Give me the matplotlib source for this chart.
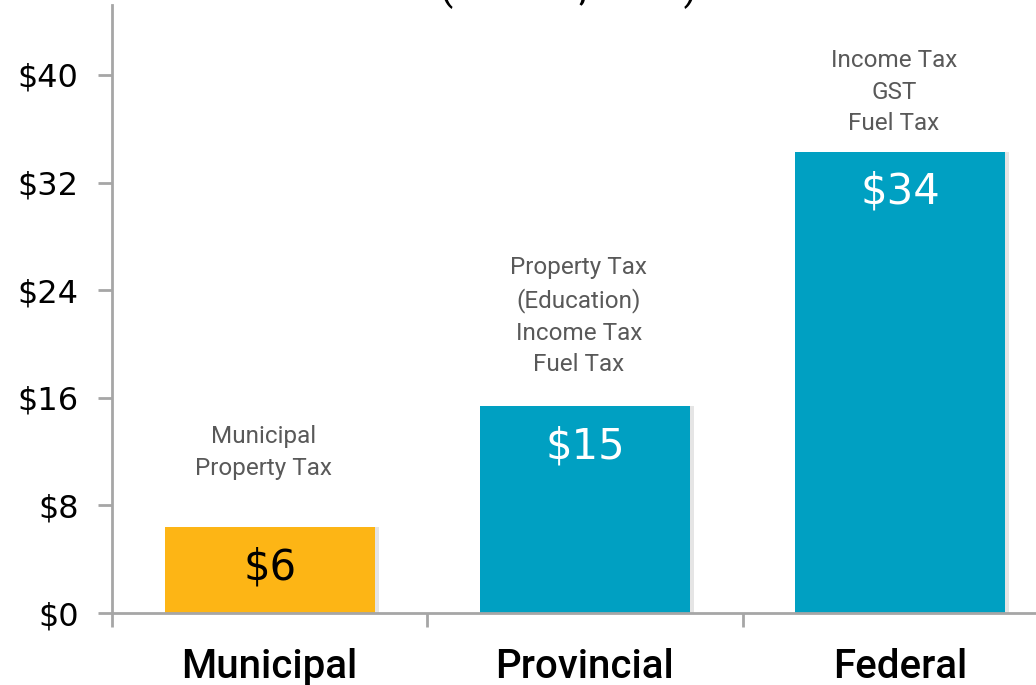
import numpy as np
import matplotlib.pyplot as plt
from matplotlib.ticker import FuncFormatter

plt.rcParams['font.family'] = ['Roboto', 'DejaVu Sans']

categories = ['Municipal', 'Provincial', 'Federal']
values = [6.4, 15.4, 34.3]
value_labels = ['$6', '$15', '$34']
tax_notes = ['Municipal\nProperty Tax',
             'Property Tax\n(Education)\nIncome Tax\nFuel Tax',
             'Income Tax\nGST\nFuel Tax']
note_y = [9.9, 17.6, 35.5]
yticks = [0, 8, 16, 24, 32, 40]

bar_colors = ['#FDB515', '#00A0C2', '#00A0C2']
label_colors = ['black', 'white', 'white']
axis_grey = '#A6A6A6'

fig = plt.figure(figsize=(10.36, 6.85), dpi=100)
ax = fig.add_axes([112 / 1036, 72 / 685, 946 / 1036, 608 / 685])

x = np.arange(len(categories))
# soft shadow behind bars
ax.bar(x + 0.012, values, width=0.667, color='#000000', alpha=0.10, zorder=1)
ax.bar(x, values, width=0.667, color=bar_colors, zorder=2)

for xi, v, lab, c in zip(x, values, value_labels, label_colors):
    ax.text(xi, v - 3.0, lab, ha='center', va='center', fontsize=30,
            color=c, zorder=3, family='DejaVu Sans')

for xi, ny, note in zip(x, note_y, tax_notes):
    ax.text(xi - 0.02, ny, note, ha='center', va='bottom', fontsize=17.5,
            color='#595959', linespacing=1.48)

ax.set_xlim(-0.5, 2.5)
ax.set_ylim(0, 45.2)
ax.set_yticks(yticks)
ax.yaxis.set_major_formatter(FuncFormatter(lambda v, p: f'${v:.0f}'))
ax.set_xticks([-0.5, 0.5, 1.5])
ax.set_xticklabels([])
ax.tick_params(axis='y', length=10, width=2, color=axis_grey,
               labelsize=23, pad=14, labelcolor='black')
for t in ax.get_yticklabels():
    t.set_family('DejaVu Sans')
ax.tick_params(axis='x', length=10, width=2, color=axis_grey)

for xi, cat in zip(x, categories):
    ax.text(xi, -4.0, cat, ha='center', va='center', fontsize=29,
            color='black', fontweight='medium')

for side in ['top', 'right']:
    ax.spines[side].set_visible(False)
for side in ['left', 'bottom']:
    ax.spines[side].set_color(axis_grey)
    ax.spines[side].set_linewidth(2)

# title sits mostly above the visible area
fig.text(0.549, 1.0, '(Billions, 2012)', ha='center', va='baseline',
         fontsize=28, color='black')

fig.savefig('out.png', dpi=100)
